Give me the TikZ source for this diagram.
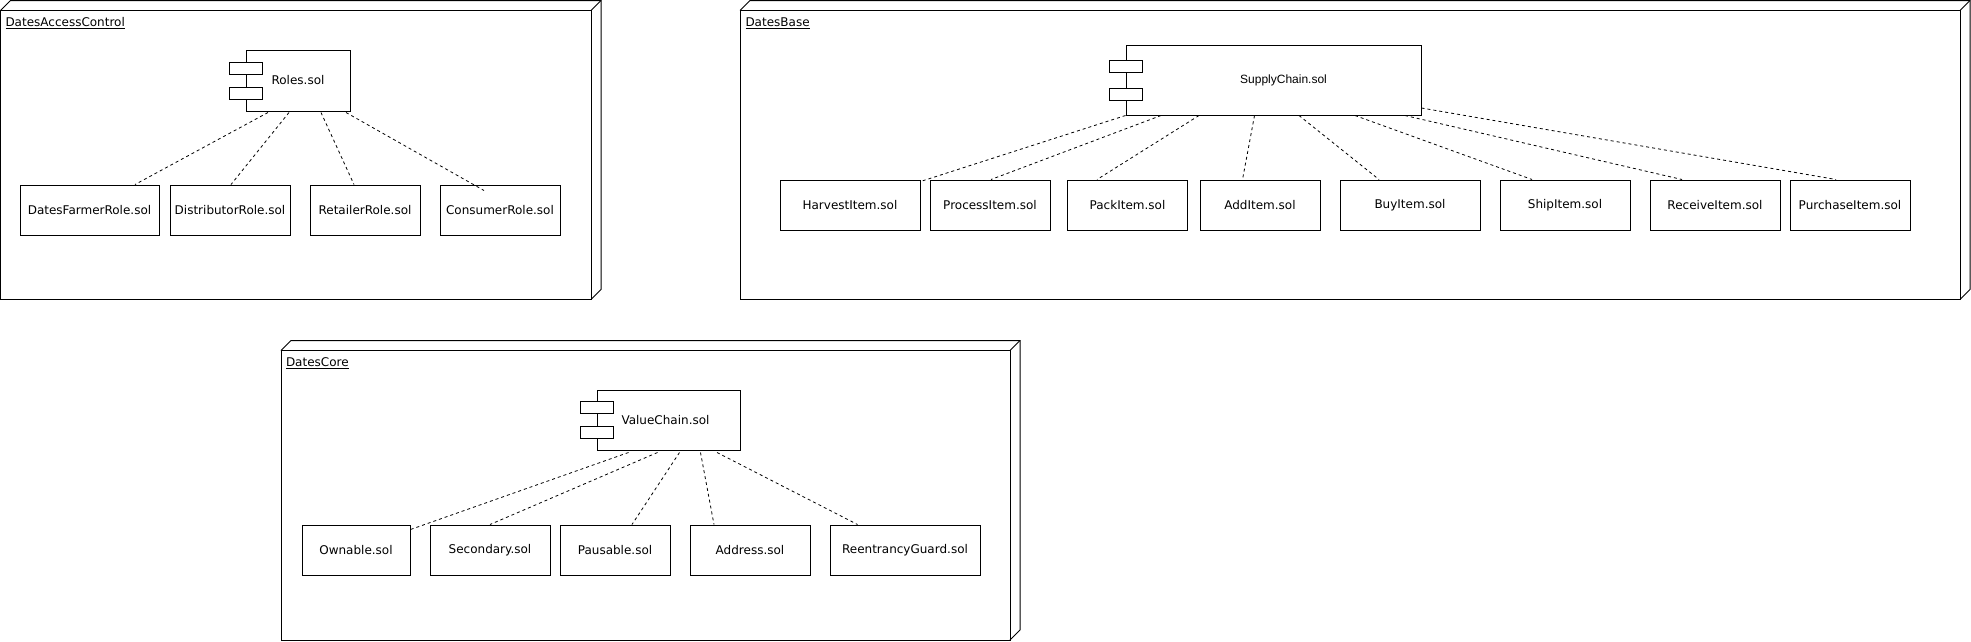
\documentclass[tikz,border=0pt]{standalone}
\usepackage{fontspec}
\setmainfont{DejaVu Sans}
\newfontfamily\helvfont{Liberation Sans}
\begin{document}
\begin{tikzpicture}[x=1pt, y=-1pt, line width=1pt,
  sol/.style={draw, fill=white, minimum height=50pt, inner sep=0pt, font=\fontsize{12}{14}\selectfont},
  comp/.style={draw, fill=white, inner sep=0pt, font=\fontsize{12}{14}\selectfont},
  tab/.style={draw, fill=white, minimum width=33pt, minimum height=12pt, inner sep=0pt},
  pkg/.style={anchor=west, inner sep=0pt, font=\fontsize{12}{14}\selectfont},
  dep/.style={line width=0.8pt, dash pattern=on 3pt off 3pt}]
\useasboundingbox (0,0) rectangle (1971,641);

% DatesAccessControl
\begin{scope}
\draw (0.5,10.5) rectangle (591,299.5);
\draw (0.5,10.5) -- (10.5,0.5) -- (601,0.5) -- (601,289.5) -- (591,299.5);
\draw (591,10.5) -- (601,0.5);
\node[pkg] (dac) at (5,23) {\underline{DatesAccessControl}};
\node[comp, minimum width=104pt, minimum height=61pt] (roles) at (298,80.5) {Roles.sol};
\node[tab] (rolesA) at ([yshift=12.5pt]roles.west) {};
\node[tab] (rolesB) at ([yshift=-12.5pt]roles.west) {};
\node[sol, minimum width=139pt] (farmer) at (89.5,210) {DatesFarmerRole.sol};
\node[sol, minimum width=120pt] (distributor) at (230,210) {DistributorRole.sol};
\node[sol, minimum width=110pt] (retailer) at (365,210) {RetailerRole.sol};
\node[sol, minimum width=120pt] (consumer) at (500,210) {ConsumerRole.sol};
\draw[dep] ([xshift=-30pt,yshift=-1pt]roles.south) -- ([xshift=45.5pt]farmer.north);
\draw[dep] ([xshift=-9pt,yshift=-1pt]roles.south) -- ([xshift=1pt]distributor.north);
\draw[dep] ([xshift=23pt,yshift=-1pt]roles.south) -- ([xshift=-11pt]retailer.north);
\draw[dep] ([xshift=48pt,yshift=-1pt]roles.south) -- ([xshift=-16pt,yshift=-6pt]consumer.north);
\end{scope}

% DatesBase
\begin{scope}
\draw (740,10.5) rectangle (1960,299.5);
\draw (740,10.5) -- (750,0.5) -- (1970,0.5) -- (1970,289.5) -- (1960,299.5);
\draw (1960,10.5) -- (1970,0.5);
\node[pkg] (db) at (745,23) {\underline{DatesBase}};
\node[comp, minimum width=295pt, minimum height=70pt, font=\helvfont\fontsize{12}{14}\selectfont] (supply) at (1273.5,80) {\hspace*{20pt}SupplyChain.sol};
\node[tab] (supplyA) at ([yshift=14pt]supply.west) {};
\node[tab] (supplyB) at ([yshift=-14pt]supply.west) {};
\node[sol, minimum width=140pt] (harvest) at (850,205) {HarvestItem.sol};
\node[sol, minimum width=120pt] (process) at (990,205) {ProcessItem.sol};
\node[sol, minimum width=120pt] (pack) at (1127.5,205) {PackItem.sol};
\node[sol, minimum width=120pt] (add) at (1260,205) {AddItem.sol};
\node[sol, minimum width=140pt] (buy) at (1410,205) {BuyItem.sol};
\node[sol, minimum width=130pt] (ship) at (1565,205) {ShipItem.sol};
\node[sol, minimum width=130pt] (receive) at (1715,205) {ReceiveItem.sol};
\node[sol, minimum width=120pt] (purchase) at (1850,205) {PurchaseItem.sol};
\draw[dep] (supply.south west) -- ([yshift=-2pt]harvest.north east);
\draw[dep] ([xshift=-112.5pt]supply.south) -- ([xshift=1pt]process.north);
\draw[dep] ([xshift=-74.5pt]supply.south) -- ([xshift=-30.5pt]pack.north);
\draw[dep] ([xshift=-19pt]supply.south) -- ([xshift=-17.5pt]add.north);
\draw[dep] ([xshift=25.5pt]supply.south) -- ([xshift=-31pt]buy.north);
\draw[dep] ([xshift=81.5pt]supply.south) -- ([xshift=-33pt]ship.north);
\draw[dep] ([xshift=131.5pt]supply.south) -- ([xshift=-33pt]receive.north);
\draw[dep] ([yshift=-28pt]supply.east) -- ([xshift=-14pt]purchase.north);
\end{scope}

% DatesCore
\begin{scope}
\draw (281,350.5) rectangle (1010,640);
\draw (281,350.5) -- (291,340.5) -- (1020,340.5) -- (1020,630) -- (1010,640);
\draw (1010,350.5) -- (1020,340.5);
\node[pkg] (dc) at (285.5,363) {\underline{DatesCore}};
\node[comp, minimum width=143pt, minimum height=60pt] (value) at (668.5,420) {\hspace*{-6pt}ValueChain.sol};
\node[tab] (valueA) at ([yshift=12.5pt]value.west) {};
\node[tab] (valueB) at ([yshift=-12.5pt]value.west) {};
\node[sol, minimum width=108pt] (ownable) at (356,550) {Ownable.sol};
\node[sol, minimum width=120pt] (secondary) at (490,550) {Secondary.sol};
\node[sol, minimum width=110pt] (pausable) at (615,550) {Pausable.sol};
\node[sol, minimum width=120pt] (address) at (750,550) {Address.sol};
\node[sol, minimum width=150pt] (guard) at (905,550) {ReentrancyGuard.sol};
\draw[dep] ([xshift=-40pt,yshift=-2pt]value.south) -- ([yshift=-5pt]ownable.north east);
\draw[dep] ([xshift=-11pt,yshift=-2pt]value.south) -- (secondary.north);
\draw[dep] ([xshift=11pt,yshift=-2pt]value.south) -- ([xshift=17pt]pausable.north);
\draw[dep] ([xshift=32pt,yshift=-2pt]value.south) -- ([xshift=-36pt]address.north);
\draw[dep] ([xshift=48.5pt,yshift=-2pt]value.south) -- ([xshift=-47.5pt]guard.north);
\end{scope}
\end{tikzpicture}
\end{document}
